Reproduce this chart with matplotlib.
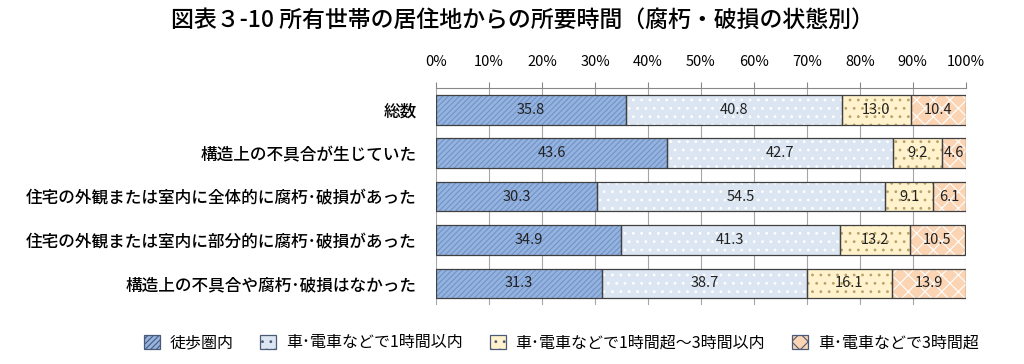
import matplotlib.pyplot as plt
import matplotlib as mpl
import numpy as np

plt.rcParams['font.family'] = ['Noto Sans CJK JP', 'DejaVu Sans']
mpl.rcParams['hatch.linewidth'] = 0.8

categories = [
    "総数",
    "構造上の不具合が生じていた",
    "住宅の外観または室内に全体的に腐朽･破損があった",
    "住宅の外観または室内に部分的に腐朽･破損があった",
    "構造上の不具合や腐朽･破損はなかった",
]
series_names = ["徒歩圏内", "車･電車などで1時間以内", "車･電車などで1時間超～3時間以内", "車･電車などで3時間超"]
walk = [35.8, 43.6, 30.3, 34.9, 31.3]
within_1h = [40.8, 42.7, 54.5, 41.3, 38.7]
h1_to_3 = [13.0, 9.2, 9.1, 13.2, 16.1]
over_3h = [10.4, 4.6, 6.1, 10.5, 13.9]

series = [walk, within_1h, h1_to_3, over_3h]
faces = ["#95B3DE", "#DCE6F2", "#FFF2CC", "#FBD4B4"]
hatch_colors = ["#6F93C8", "#FFFFFF", "#B8A36A", "#FFFFFF"]
hatches = ["//////", "..", "..", "xx"]

fig = plt.figure(figsize=(10.24, 3.64), dpi=100)
ax = fig.add_axes([0.426, 0.162, 0.517, 0.596])

y = np.arange(len(categories))
left = np.zeros(len(categories))
for vals, name, fc, hc, h in zip(series, series_names, faces, hatch_colors, hatches):
    vals = np.array(vals)
    ax.barh(y, vals, left=left, height=0.68, color=fc,
            edgecolor=hc, hatch=h, linewidth=0, zorder=2)
    # outline drawn separately so hatch colour can differ
    ax.barh(y, vals, left=left, height=0.68, fill=False,
            edgecolor="#404040", linewidth=0.9, zorder=3)
    for yi, l, v in zip(y, left, vals):
        ax.text(l + v / 2, yi, f"{v:.1f}", ha="center", va="center",
                fontsize=10.5, color="#222222", zorder=4)
    left += vals

ax.set_xlim(0, 100)
ax.set_ylim(len(categories) - 0.5, -0.5)
ax.set_xticks(np.arange(0, 101, 10))
ax.set_xticklabels([f"{v}%" for v in range(0, 101, 10)])
ax.xaxis.tick_top()
ax.tick_params(axis="x", length=4, color="#888888", labelsize=10.5, pad=10)
ax.set_yticks(y)
ax.set_yticklabels(categories, fontsize=12, fontweight="medium")
ax.tick_params(axis="y", length=0, pad=14)
ax.grid(axis="x", color="#A6A6A6", linewidth=0.8, zorder=0)
for s in ["right", "bottom", "left"]:
    ax.spines[s].set_visible(False)
ax.spines["top"].set_color("#888888")

fig.suptitle("図表３-10 所有世帯の居住地からの所要時間（腐朽・破損の状態別）",
             x=0.51, y=0.975, fontsize=16.5, fontweight="medium")

leg_handles = [mpl.patches.Patch(facecolor=fc, edgecolor="#4A5A78", hatch=h,
                                 linewidth=0.9)
               for fc, h in zip(faces, hatches)]
fig.legend(leg_handles, series_names, loc="lower center", ncol=4,
           bbox_to_anchor=(0.548, -0.005), frameon=False, fontsize=11.5,
           handlelength=1.0, handleheight=1.0, columnspacing=1.7,
           handletextpad=0.6)

fig.savefig("out.png", dpi=100)
